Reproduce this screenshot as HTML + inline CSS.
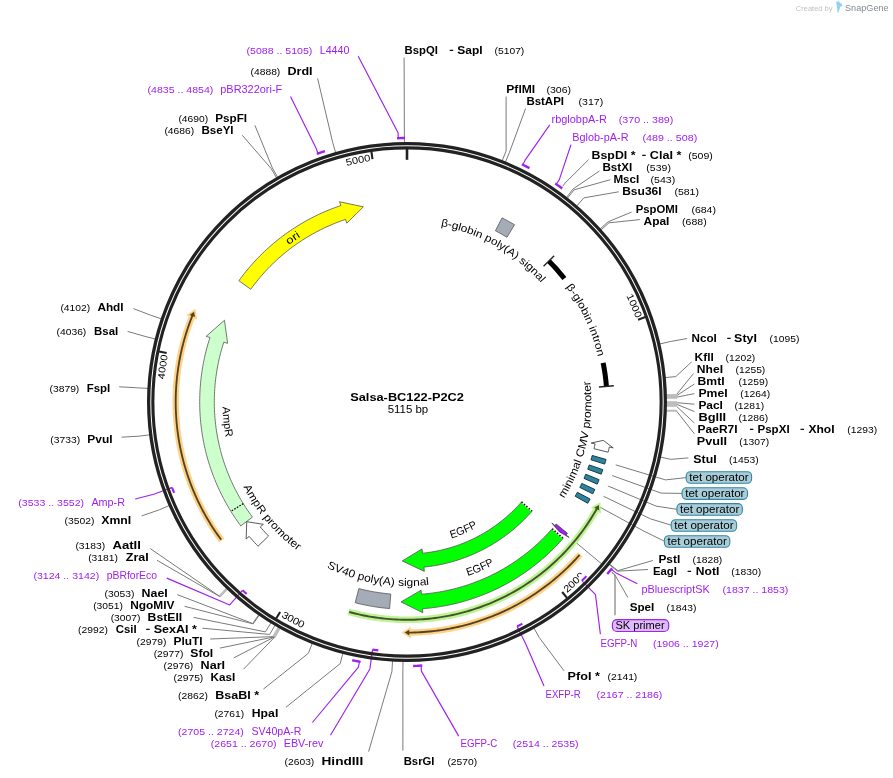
<!DOCTYPE html>
<html><head><meta charset="utf-8"><title>Salsa-BC122-P2C2</title>
<style>html,body{margin:0;padding:0;background:#fff;}svg{display:block;}text{font-family:"Liberation Sans",sans-serif;white-space:pre;}svg{will-change:transform;}</style></head>
<body>
<svg width="893" height="778" viewBox="0 0 893 778" font-family='"Liberation Sans", sans-serif'>
<path d="M404.45,142.81 L404.35,132.01" fill="none" stroke="#7a7a7a" stroke-width="1"/>
<path d="M335.66,152.81 L332.68,142.43" fill="none" stroke="#7a7a7a" stroke-width="1"/>
<path d="M277.74,177.33 L272.36,167.97" fill="none" stroke="#7a7a7a" stroke-width="1"/>
<path d="M276.64,177.97 L271.21,168.63" fill="none" stroke="#7a7a7a" stroke-width="1"/>
<path d="M502.15,160.9 L506.12,150.85" fill="none" stroke="#7a7a7a" stroke-width="1"/>
<path d="M505.4,162.2 L509.5,152.21" fill="none" stroke="#7a7a7a" stroke-width="1"/>
<path d="M562.69,186.32 L565.03,183.08" fill="none" stroke="#7a7a7a" stroke-width="1"/>
<path d="M566.35,197.57 L572.99,189.05" fill="none" stroke="#7a7a7a" stroke-width="1"/>
<path d="M567.35,198.35 L574.03,189.87" fill="none" stroke="#7a7a7a" stroke-width="1"/>
<path d="M576.68,206.06 L583.75,197.89" fill="none" stroke="#7a7a7a" stroke-width="1"/>
<path d="M600.05,229.04 L608.09,221.83" fill="none" stroke="#7a7a7a" stroke-width="1"/>
<path d="M600.9,229.99 L608.98,222.82" fill="none" stroke="#7a7a7a" stroke-width="1"/>
<path d="M659.63,343.99 L670.15,341.57" fill="none" stroke="#7a7a7a" stroke-width="1"/>
<path d="M665.05,377.6 L675.8,376.58" fill="none" stroke="#7a7a7a" stroke-width="1"/>
<path d="M660.28,457.06 L670.84,459.35" fill="none" stroke="#7a7a7a" stroke-width="1"/>
<path d="M609.41,563.91 L617.84,570.66" fill="none" stroke="#7a7a7a" stroke-width="1"/>
<path d="M609.01,564.41 L617.43,571.17" fill="none" stroke="#7a7a7a" stroke-width="1"/>
<path d="M611.62,571.96 L614.7,574.51" fill="none" stroke="#7a7a7a" stroke-width="1"/>
<path d="M533.9,628.01 L539.19,637.43" fill="none" stroke="#7a7a7a" stroke-width="1"/>
<path d="M403.02,661.17 L402.85,671.97" fill="none" stroke="#7a7a7a" stroke-width="1"/>
<path d="M392.52,660.8 L391.92,671.58" fill="none" stroke="#7a7a7a" stroke-width="1"/>
<path d="M342.88,653.14 L340.21,663.61" fill="none" stroke="#7a7a7a" stroke-width="1"/>
<path d="M312.29,643.28 L308.35,653.33" fill="none" stroke="#7a7a7a" stroke-width="1"/>
<path d="M279.82,627.85 L274.52,637.26" fill="none" stroke="#bdbdbd" stroke-width="2"/>
<path d="M279.54,627.7 L274.23,637.1" fill="none" stroke="#bdbdbd" stroke-width="2"/>
<path d="M279.27,627.54 L273.94,636.94" fill="none" stroke="#bdbdbd" stroke-width="2"/>
<path d="M278.71,627.23 L273.37,636.61" fill="none" stroke="#bdbdbd" stroke-width="2"/>
<path d="M275.13,625.15 L269.64,634.45" fill="none" stroke="#7a7a7a" stroke-width="1"/>
<path d="M271.04,622.68 L265.38,631.88" fill="none" stroke="#7a7a7a" stroke-width="1"/>
<path d="M259.32,615.01 L253.17,623.89" fill="none" stroke="#7a7a7a" stroke-width="1"/>
<path d="M258.8,614.65 L252.62,623.51" fill="none" stroke="#7a7a7a" stroke-width="1"/>
<path d="M227.33,588.82 L219.84,596.61" fill="none" stroke="#bdbdbd" stroke-width="2"/>
<path d="M226.87,588.38 L219.36,596.14" fill="none" stroke="#bdbdbd" stroke-width="2"/>
<path d="M169.34,505.46 L159.44,509.77" fill="none" stroke="#7a7a7a" stroke-width="1"/>
<path d="M149.88,434.79 L139.17,436.15" fill="none" stroke="#7a7a7a" stroke-width="1"/>
<path d="M148.16,388.39 L137.37,387.83" fill="none" stroke="#7a7a7a" stroke-width="1"/>
<path d="M155.56,339.04 L145.09,336.41" fill="none" stroke="#7a7a7a" stroke-width="1"/>
<path d="M161.49,318.88 L151.26,315.42" fill="none" stroke="#7a7a7a" stroke-width="1"/>
<path d="M404.35,132.01 L404.1,57.6" fill="none" stroke="#7a7a7a" stroke-width="1"/>
<path d="M332.68,142.43 L317.6,78.4" fill="none" stroke="#7a7a7a" stroke-width="1"/>
<path d="M272.36,167.97 L254.9,125.3" fill="none" stroke="#7a7a7a" stroke-width="1"/>
<path d="M271.21,168.63 L242.3,135.3" fill="none" stroke="#7a7a7a" stroke-width="1"/>
<path d="M506.12,150.85 L506.1,96.5" fill="none" stroke="#7a7a7a" stroke-width="1"/>
<path d="M509.5,152.21 L525.6,108.5" fill="none" stroke="#7a7a7a" stroke-width="1"/>
<path d="M565.03,183.08 L588.6,159.7" fill="none" stroke="#7a7a7a" stroke-width="1"/>
<path d="M572.99,189.05 L599.4,171" fill="none" stroke="#7a7a7a" stroke-width="1"/>
<path d="M574.03,189.87 L610.4,179.7" fill="none" stroke="#7a7a7a" stroke-width="1"/>
<path d="M583.75,197.89 L618.7,191.8" fill="none" stroke="#7a7a7a" stroke-width="1"/>
<path d="M608.09,221.83 L631.5,212.1" fill="none" stroke="#7a7a7a" stroke-width="1"/>
<path d="M608.98,222.82 L639.8,219.6" fill="none" stroke="#7a7a7a" stroke-width="1"/>
<path d="M670.15,341.57 L687.2,338.5" fill="none" stroke="#7a7a7a" stroke-width="1"/>
<path d="M675.8,376.58 L691.7,361.8" fill="none" stroke="#7a7a7a" stroke-width="1"/>
<path d="M676.89,394.12 L693.5,373.5" fill="none" stroke="#7a7a7a" stroke-width="1"/>
<path d="M676.92,395.45 L694.4,384" fill="none" stroke="#7a7a7a" stroke-width="1"/>
<path d="M676.96,397.11 L694.4,393.6" fill="none" stroke="#7a7a7a" stroke-width="1"/>
<path d="M677,402.75 L694.4,404.2" fill="none" stroke="#7a7a7a" stroke-width="1"/>
<path d="M676.99,404.4 L694.4,411.6" fill="none" stroke="#7a7a7a" stroke-width="1"/>
<path d="M676.96,406.73 L694.4,423" fill="none" stroke="#7a7a7a" stroke-width="1"/>
<path d="M676.84,411.37 L694.4,433.8" fill="none" stroke="#7a7a7a" stroke-width="1"/>
<path d="M670.84,459.35 L688.4,457.9" fill="none" stroke="#7a7a7a" stroke-width="1"/>
<path d="M617.84,570.66 L652.9,560.5" fill="none" stroke="#7a7a7a" stroke-width="1"/>
<path d="M617.43,571.17 L648,569.5" fill="none" stroke="#7a7a7a" stroke-width="1"/>
<path d="M614.7,574.51 L627.8,597.4" fill="none" stroke="#7a7a7a" stroke-width="1"/>
<path d="M539.19,637.43 L564,670.8" fill="none" stroke="#7a7a7a" stroke-width="1"/>
<path d="M402.85,671.97 L402.9,750.6" fill="none" stroke="#7a7a7a" stroke-width="1"/>
<path d="M391.92,671.58 L368.6,751.6" fill="none" stroke="#7a7a7a" stroke-width="1"/>
<path d="M340.21,663.61 L285.9,707.3" fill="none" stroke="#7a7a7a" stroke-width="1"/>
<path d="M308.35,653.33 L263.4,689.1" fill="none" stroke="#7a7a7a" stroke-width="1"/>
<path d="M274.52,637.26 L243.5,669.2" fill="none" stroke="#7a7a7a" stroke-width="1"/>
<path d="M274.23,637.1 L233.7,657.9" fill="none" stroke="#7a7a7a" stroke-width="1"/>
<path d="M273.94,636.94 L219.9,648.1" fill="none" stroke="#7a7a7a" stroke-width="1"/>
<path d="M273.37,636.61 L210.2,639" fill="none" stroke="#7a7a7a" stroke-width="1"/>
<path d="M269.64,634.45 L202.4,628.2" fill="none" stroke="#7a7a7a" stroke-width="1"/>
<path d="M265.38,631.88 L193.7,617.4" fill="none" stroke="#7a7a7a" stroke-width="1"/>
<path d="M253.17,623.89 L184.6,606.3" fill="none" stroke="#7a7a7a" stroke-width="1"/>
<path d="M252.62,623.51 L177.2,594.6" fill="none" stroke="#7a7a7a" stroke-width="1"/>
<path d="M219.84,596.61 L157,560.3" fill="none" stroke="#7a7a7a" stroke-width="1"/>
<path d="M219.36,596.14 L150.3,548.6" fill="none" stroke="#7a7a7a" stroke-width="1"/>
<path d="M159.44,509.77 L141.7,515.9" fill="none" stroke="#7a7a7a" stroke-width="1"/>
<path d="M139.17,436.15 L121.6,437.2" fill="none" stroke="#7a7a7a" stroke-width="1"/>
<path d="M137.37,387.83 L119.2,386.8" fill="none" stroke="#7a7a7a" stroke-width="1"/>
<path d="M145.09,336.41 L127.6,331.4" fill="none" stroke="#7a7a7a" stroke-width="1"/>
<path d="M151.26,315.42 L133.4,308.6" fill="none" stroke="#7a7a7a" stroke-width="1"/>
<rect x="664" y="394.1" width="13.2" height="4.7" fill="#bcbcbc"/>
<rect x="664" y="401.2" width="13.2" height="5.6" fill="#bcbcbc"/>
<rect x="664" y="409.7" width="13.2" height="2.1" fill="#bcbcbc"/>
<path d="M615.73,464.89 L665.52,479.9 L686.2,477.6" fill="none" stroke="#7a7a7a" stroke-width="1"/>
<path d="M612.21,475.57 L661.16,493.12 L682.1,493.4" fill="none" stroke="#7a7a7a" stroke-width="1"/>
<path d="M608.14,486.06 L656.12,506.11 L676.9,509.3" fill="none" stroke="#7a7a7a" stroke-width="1"/>
<path d="M603.54,496.32 L650.42,518.82 L671.2,525.2" fill="none" stroke="#7a7a7a" stroke-width="1"/>
<path d="M598.41,506.33 L644.07,531.22 L664.4,541.2" fill="none" stroke="#7a7a7a" stroke-width="1"/>
<path d="M575.38,542.03 L602.29,564.41" fill="none" stroke="#7a7a7a" stroke-width="1"/>
<path d="M611.9,572.4 L614.59,574.64" fill="none" stroke="#7a7a7a" stroke-width="1"/>
<path d="M614.59,574.64 L615,576 L615,615.2" fill="none" stroke="#858585" stroke-width="1.25"/>
<path d="M238.88,280.72 L240.65,278.3 L242.45,275.91 L244.29,273.55 L246.16,271.22 L248.07,268.91 L250.01,266.63 L251.98,264.37 L253.98,262.15 L256.02,259.95 L258.08,257.79 L260.18,255.65 L262.31,253.55 L264.47,251.47 L266.66,249.43 L268.88,247.42 L271.12,245.44 L273.4,243.5 L275.7,241.58 L278.03,239.7 L280.39,237.86 L282.77,236.05 L285.18,234.27 L287.62,232.53 L290.08,230.82 L292.56,229.15 L295.07,227.52 L297.6,225.92 L300.15,224.36 L302.73,222.83 L305.33,221.35 L307.95,219.9 L310.59,218.48 L313.25,217.11 L315.93,215.78 L318.63,214.48 L321.34,213.22 L324.08,212.01 L326.83,210.83 L329.6,209.69 L332.38,208.59 L335.18,207.54 L338,206.52 L340.83,205.54 L339.55,201.75 L363.38,206.82 L346.77,223.17 L345.49,219.38 L342.66,220.36 L339.85,221.38 L337.06,222.44 L334.28,223.55 L331.52,224.7 L328.77,225.89 L326.05,227.13 L323.34,228.41 L320.66,229.73 L317.99,231.09 L315.35,232.49 L312.73,233.93 L310.13,235.42 L307.56,236.94 L305.01,238.5 L302.48,240.11 L299.98,241.75 L297.51,243.43 L295.06,245.15 L292.64,246.9 L290.24,248.7 L287.88,250.53 L285.54,252.4 L283.23,254.3 L280.96,256.24 L278.71,258.21 L276.49,260.22 L274.31,262.27 L272.15,264.34 L270.03,266.45 L267.94,268.6 L265.89,270.77 L263.87,272.98 L261.88,275.21 L259.93,277.48 L258.02,279.78 L256.14,282.11 L254.3,284.46 L252.49,286.85 L250.72,289.26 Z" fill="#ffff00" stroke="#555" stroke-width="0.8" stroke-linejoin="miter"/>
<path d="M240.76,525.85 L239.01,523.46 L237.29,521.05 L235.61,518.62 L233.97,516.16 L232.35,513.68 L230.78,511.17 L229.24,508.65 L227.73,506.1 L226.27,503.53 L224.84,500.94 L223.44,498.33 L222.09,495.7 L220.77,493.05 L219.49,490.38 L218.24,487.7 L217.04,485 L215.87,482.28 L214.75,479.54 L213.66,476.79 L212.61,474.02 L211.61,471.24 L210.64,468.44 L209.71,465.63 L208.82,462.81 L207.97,459.98 L207.17,457.13 L206.4,454.27 L205.67,451.4 L204.99,448.53 L204.34,445.64 L203.74,442.74 L203.18,439.84 L202.66,436.92 L202.19,434 L201.75,431.08 L201.36,428.14 L201,425.21 L200.69,422.26 L200.42,419.32 L200.2,416.37 L200.01,413.41 L199.87,410.46 L199.77,407.5 L199.72,404.54 L199.7,401.58 L199.73,398.62 L199.8,395.67 L199.91,392.71 L200.06,389.75 L200.26,386.8 L200.5,383.85 L200.78,380.91 L201.1,377.97 L201.46,375.03 L201.87,372.1 L202.32,369.17 L202.8,366.26 L203.34,363.34 L203.91,360.44 L204.52,357.55 L205.18,354.66 L205.87,351.79 L206.61,348.92 L207.39,346.07 L208.21,343.22 L209.07,340.39 L209.97,337.57 L206.16,336.33 L224.47,320.26 L227.64,343.35 L223.84,342.11 L222.94,344.94 L222.08,347.79 L221.27,350.65 L220.5,353.52 L219.77,356.4 L219.09,359.29 L218.46,362.2 L217.86,365.11 L217.32,368.03 L216.82,370.96 L216.36,373.9 L215.95,376.84 L215.58,379.79 L215.26,382.75 L214.99,385.71 L214.76,388.67 L214.58,391.64 L214.44,394.6 L214.35,397.58 L214.31,400.55 L214.31,403.52 L214.35,406.49 L214.44,409.46 L214.58,412.43 L214.77,415.4 L215,418.36 L215.27,421.32 L215.59,424.28 L215.96,427.23 L216.37,430.17 L216.83,433.11 L217.33,436.04 L217.88,438.96 L218.47,441.87 L219.11,444.77 L219.79,447.67 L220.52,450.55 L221.29,453.42 L222.1,456.28 L222.96,459.12 L223.86,461.95 L224.81,464.77 L225.8,467.57 L226.83,470.36 L227.91,473.13 L229.03,475.89 L230.19,478.62 L231.39,481.34 L232.64,484.04 L233.92,486.72 L235.25,489.38 L236.62,492.02 L238.03,494.63 L239.48,497.23 L240.96,499.8 L242.49,502.35 L244.06,504.88 L245.67,507.38 L247.31,509.85 L248.99,512.3 L250.71,514.73 L252.47,517.13 Z" fill="#ccffcc" stroke="#555" stroke-width="0.8" stroke-linejoin="miter"/>
<path d="M243.28,503.63 L230.87,511.33" stroke="#000" stroke-width="1.2" stroke-dasharray="1.6,1.4" fill="none"/>
<path d="M258.07,546.2 L256.24,544.29 L254.44,542.35 L252.66,540.39 L250.9,538.41 L249.17,536.4 L246.13,538.99 L246.76,521.68 L263.33,524.34 L260.29,526.93 L261.9,528.8 L263.53,530.64 L265.18,532.46 L266.86,534.27 L268.56,536.05 Z" fill="#ffffff" stroke="#484848" stroke-width="0.9" stroke-linejoin="miter"/>
<path d="M608.12,452.23 L608.75,449.63 L609.35,447.03 L613.25,447.9 L603.28,440.39 L591.19,442.99 L595.1,443.86 L594.54,446.28 L593.96,448.69 Z" fill="#ffffff" stroke="#484848" stroke-width="0.9" stroke-linejoin="miter"/>
<path d="M563.17,538.33 L561.18,540.57 L559.17,542.77 L557.13,544.95 L555.05,547.1 L552.95,549.22 L550.81,551.31 L548.64,553.36 L546.45,555.39 L544.22,557.38 L541.97,559.34 L539.69,561.27 L537.38,563.17 L535.04,565.03 L532.68,566.86 L530.29,568.65 L527.88,570.41 L525.44,572.14 L522.97,573.82 L520.48,575.48 L517.97,577.1 L515.44,578.68 L512.88,580.22 L510.3,581.73 L507.7,583.2 L505.08,584.63 L502.44,586.03 L499.77,587.38 L497.09,588.7 L494.39,589.98 L491.68,591.22 L488.94,592.42 L486.19,593.58 L483.42,594.7 L480.63,595.78 L477.83,596.82 L475.02,597.82 L472.19,598.78 L469.35,599.7 L466.49,600.58 L463.62,601.42 L460.74,602.21 L457.85,602.97 L454.95,603.68 L452.04,604.35 L449.12,604.98 L446.19,605.56 L443.25,606.11 L440.31,606.61 L437.36,607.07 L434.4,607.48 L431.43,607.86 L428.46,608.19 L425.49,608.47 L422.51,608.72 L422.81,612.71 L400.98,601.91 L421.12,590.17 L421.42,594.16 L424.41,593.91 L427.39,593.62 L430.37,593.28 L433.35,592.89 L436.32,592.46 L439.28,591.98 L442.23,591.45 L445.17,590.88 L448.11,590.26 L451.03,589.6 L453.95,588.89 L456.85,588.14 L459.74,587.34 L462.62,586.5 L465.49,585.61 L468.34,584.68 L471.17,583.7 L473.99,582.68 L476.8,581.62 L479.58,580.51 L482.35,579.36 L485.1,578.16 L487.84,576.93 L490.55,575.65 L493.24,574.32 L495.91,572.96 L498.56,571.56 L501.19,570.11 L503.79,568.63 L506.38,567.1 L508.93,565.53 L511.47,563.93 L513.97,562.28 L516.46,560.6 L518.91,558.87 L521.34,557.11 L523.74,555.31 L526.11,553.48 L528.45,551.61 L530.77,549.7 L533.05,547.75 L535.3,545.77 L537.53,543.76 L539.72,541.71 L541.88,539.63 L544,537.51 L546.09,535.37 L548.15,533.18 L550.18,530.97 L552.17,528.73 Z" fill="#00ff00" stroke="#555" stroke-width="0.8" stroke-linejoin="miter"/>
<path d="M532.05,511.17 L530.08,513.39 L528.07,515.57 L526.02,517.72 L523.93,519.83 L521.8,521.9 L519.64,523.93 L517.44,525.93 L515.21,527.88 L512.94,529.8 L510.64,531.67 L508.3,533.51 L505.94,535.3 L503.54,537.04 L501.11,538.75 L498.64,540.41 L496.15,542.03 L493.64,543.6 L491.09,545.13 L488.52,546.61 L485.92,548.04 L483.29,549.43 L480.65,550.77 L477.97,552.06 L475.28,553.31 L472.56,554.5 L469.82,555.65 L467.07,556.75 L464.29,557.8 L461.49,558.8 L458.68,559.75 L455.85,560.65 L453.01,561.5 L450.15,562.29 L447.27,563.04 L444.39,563.74 L441.49,564.38 L438.58,564.97 L435.66,565.51 L432.73,565.99 L429.79,566.43 L426.85,566.81 L423.9,567.14 L424.34,571.42 L402.22,560.93 L422.04,548.93 L422.47,553.21 L425.38,552.88 L428.29,552.5 L431.18,552.06 L434.07,551.57 L436.94,551.02 L439.81,550.42 L442.66,549.76 L445.5,549.04 L448.32,548.28 L451.13,547.45 L453.92,546.58 L456.7,545.65 L459.46,544.66 L462.19,543.62 L464.91,542.54 L467.61,541.39 L470.28,540.2 L472.93,538.96 L475.56,537.66 L478.16,536.32 L480.73,534.92 L483.28,533.48 L485.79,531.98 L488.28,530.44 L490.74,528.85 L493.17,527.22 L495.56,525.53 L497.93,523.8 L500.26,522.03 L502.55,520.21 L504.81,518.35 L507.03,516.45 L509.22,514.5 L511.36,512.51 L513.47,510.48 L515.54,508.41 L517.57,506.3 L519.56,504.15 L521.51,501.96 Z" fill="#00ff00" stroke="#555" stroke-width="0.8" stroke-linejoin="miter"/>
<path d="M552.17,528.73 L563.17,538.33" stroke="#fff" stroke-width="1.6" fill="none"/>
<path d="M552.17,528.73 L563.17,538.33" stroke="#111" stroke-width="1.6" stroke-dasharray="1.5,1.7" fill="none"/>
<path d="M521.51,501.96 L532.05,511.17" stroke="#fff" stroke-width="1.6" fill="none"/>
<path d="M521.51,501.96 L532.05,511.17" stroke="#111" stroke-width="1.6" stroke-dasharray="1.5,1.7" fill="none"/>
<path d="M502.1,217.8 L504.63,219.13 L507.14,220.49 L509.62,221.88 L512.09,223.31 L514.54,224.78 L506.97,237.26 L504.69,235.9 L502.4,234.57 L500.08,233.27 L497.75,232.01 L495.41,230.78 Z" fill="#a5acb8" stroke="#555" stroke-width="0.8"/>
<path d="M389.58,608.57 L386.68,608.3 L383.79,608 L380.9,607.65 L378.02,607.26 L375.15,606.84 L372.28,606.37 L369.42,605.86 L366.56,605.32 L363.71,604.73 L360.87,604.1 L358.04,603.44 L355.22,602.73 L358.87,588.59 L361.73,589.31 L364.6,589.98 L367.48,590.6 L370.37,591.19 L373.27,591.73 L376.18,592.22 L379.09,592.67 L382.01,593.07 L384.94,593.43 L387.87,593.75 L390.8,594.02 Z" fill="#a5acb8" stroke="#555" stroke-width="0.8"/>
<path d="M606.07,459.46 L605.39,461.78 L604.68,464.09 L590.94,459.77 L591.6,457.62 L592.24,455.47 Z" fill="#2c84a0" stroke="#1b3a44" stroke-width="1"/>
<path d="M602.85,469.65 L602.04,471.93 L601.21,474.2 L587.72,469.18 L588.49,467.07 L589.23,464.95 Z" fill="#2c84a0" stroke="#1b3a44" stroke-width="1"/>
<path d="M599.1,479.66 L598.18,481.89 L597.23,484.12 L584.01,478.41 L584.89,476.34 L585.75,474.26 Z" fill="#2c84a0" stroke="#1b3a44" stroke-width="1"/>
<path d="M594.84,489.46 L593.8,491.65 L592.74,493.82 L579.84,487.44 L580.82,485.42 L581.78,483.38 Z" fill="#2c84a0" stroke="#1b3a44" stroke-width="1"/>
<path d="M590.08,499.03 L588.93,501.16 L587.76,503.28 L575.2,496.24 L576.29,494.27 L577.35,492.29 Z" fill="#2c84a0" stroke="#1b3a44" stroke-width="1"/>
<path d="M548.88,261.04 L550.97,263.18 L553.03,265.35 L555.06,267.55 L557.06,269.78 L559.02,272.04 L560.95,274.34 L562.85,276.66 L564.71,279 L566.53,281.38 L568.32,283.78 L570.07,286.21 L571.79,288.67 L573.47,291.15 L575.11,293.65 L576.71,296.18 L578.28,298.73 L579.81,301.31 L581.29,303.91 L582.74,306.53 L584.15,309.17 L585.52,311.84 L586.85,314.52 L588.14,317.22 L589.39,319.95 L590.6,322.69 L591.77,325.44 L592.89,328.22 L593.98,331.01 L595.02,333.82 L596.02,336.64 L596.98,339.48 L597.89,342.33 L598.76,345.2 L599.59,348.08 L600.38,350.97 L601.12,353.87 L601.82,356.78 L602.48,359.7 L603.09,362.64 L603.66,365.58 L604.18,368.53 L604.66,371.48 L605.09,374.45 L605.48,377.41 L605.83,380.39 L606.13,383.37 L606.39,386.35" fill="none" stroke="#000" stroke-width="5"/>
<path d="M543.56,266.32 L554.2,255.75" stroke="#222" stroke-width="1.4" fill="none"/>
<path d="M598.91,386.94 L613.86,385.77" stroke="#222" stroke-width="1.4" fill="none"/>
<path d="M567.44,533.27 L566.1,534.89 L569.17,537.46 L559.19,531.76 L551.83,522.97 L554.9,525.53 L556.14,524.03 Z" fill="#a020f0" stroke="#333" stroke-width="0.7" stroke-linejoin="miter"/>
<path d="M348.47,611.79 L351.34,612.57 L354.22,613.31 L357.1,614.01 L360,614.67 L362.91,615.29 L365.82,615.87 L368.74,616.41 L371.67,616.92 L374.61,617.38 L377.55,617.8 L380.49,618.18 L383.45,618.52 L386.4,618.82 L389.36,619.08 L392.33,619.31 L395.29,619.49 L398.26,619.62 L401.23,619.72 L404.2,619.78 L407.17,619.8 L410.14,619.78 L413.11,619.71 L416.08,619.61 L419.05,619.47 L422.02,619.28 L424.98,619.06 L427.94,618.79 L430.9,618.49 L433.85,618.14 L436.79,617.75 L439.73,617.33 L442.67,616.86 L445.6,616.35 L448.52,615.81 L451.43,615.22 L454.34,614.59 L457.23,613.93 L460.12,613.22 L463,612.48 L465.86,611.7 L468.72,610.87 L471.56,610.01 L474.39,609.11 L477.21,608.17 L480.02,607.2 L482.81,606.18 L485.59,605.13 L488.35,604.04 L491.1,602.91 L493.84,601.74 L496.55,600.54 L499.25,599.3 L501.94,598.02 L504.6,596.71 L507.25,595.36 L509.88,593.97 L512.49,592.55 L515.08,591.09 L517.65,589.6 L520.2,588.07 L522.72,586.51 L525.23,584.92 L527.71,583.29 L530.18,581.62 L532.62,579.93 L535.03,578.2 L537.42,576.43 L539.79,574.64 L542.13,572.81 L544.45,570.95 L546.74,569.06 L549.01,567.14 L551.25,565.18 L553.46,563.2 L555.65,561.19 L557.81,559.14 L559.94,557.07 L562.04,554.97 L564.11,552.84 L566.15,550.69 L568.17,548.5 L570.15,546.29 L572.1,544.05 L574.03,541.78 L575.92,539.49 L577.78,537.17 L579.61,534.83 L581.4,532.46 L583.17,530.07 L584.9,527.66 L586.59,525.22 L588.26,522.76 L589.89,520.27 L591.49,517.77 L593.05,515.24 L594.58,512.69 L596.07,510.12" fill="none" stroke="#bdf392" stroke-width="6.6"/>
<path d="M600.99,513.41 L600.37,502.22 L590.75,507.53 Z" fill="#bdf392"/>
<path d="M349.24,612 L352.12,612.77 L355.02,613.51 L357.92,614.2 L360.83,614.85 L363.75,615.46 L366.68,616.04 L369.62,616.57 L372.56,617.06 L375.51,617.51 L378.46,617.92 L381.42,618.29 L384.39,618.62 L387.36,618.91 L390.33,619.16 L393.31,619.37 L396.29,619.54 L399.27,619.66 L402.25,619.75 L405.24,619.79 L408.22,619.8 L411.2,619.76 L414.19,619.68 L417.17,619.56 L420.15,619.4 L423.12,619.2 L426.1,618.96 L429.07,618.68 L432.04,618.36 L435,617.99 L437.95,617.59 L440.9,617.14 L443.85,616.66 L446.79,616.14 L449.72,615.57 L452.64,614.96 L455.55,614.32 L458.45,613.63 L461.35,612.91 L464.23,612.15 L467.11,611.34 L469.97,610.5 L472.82,609.62 L475.66,608.7 L478.48,607.74 L481.29,606.74 L484.09,605.7 L486.88,604.62 L489.64,603.51 L492.4,602.36 L495.13,601.17 L497.85,599.95 L500.56,598.68 L503.24,597.38 L505.91,596.04 L508.56,594.67 L511.19,593.26 L513.8,591.82 L516.39,590.34 L518.96,588.82 L521.51,587.27 L524.04,585.68 L526.54,584.06 L529.03,582.41 L531.49,580.72 L533.92,579 L536.34,577.24 L538.72,575.45 L541.09,573.63 L543.43,571.78 L545.74,569.89 L548.03,567.98 L550.29,566.03 L552.52,564.05 L554.73,562.04 L556.91,560 L559.06,557.93 L561.18,555.84 L563.27,553.71 L565.34,551.56 L567.37,549.37 L569.37,547.16 L571.35,544.92 L573.29,542.66 L575.2,540.37 L577.08,538.05 L578.93,535.71 L580.74,533.34 L582.53,530.95 L584.28,528.53 L585.99,526.09 L587.68,523.63 L589.33,521.14 L590.94,518.63 L592.52,516.1 L594.07,513.55 L595.58,510.97 L597.05,508.38" fill="none" stroke="#43532c" stroke-width="1.9"/>
<path d="M599.19,510.5 L598.88,505.05 L594.14,507.65 Z" fill="#43532c"/>
<path d="M580.13,554.33 L578.16,556.54 L576.16,558.72 L574.13,560.88 L572.08,563.01 L570,565.12 L567.9,567.19 L565.76,569.25 L563.6,571.27 L561.42,573.26 L559.21,575.23 L556.97,577.17 L554.71,579.08 L552.43,580.96 L550.12,582.81 L547.79,584.64 L545.43,586.43 L543.05,588.19 L540.65,589.92 L538.23,591.62 L535.79,593.29 L533.32,594.92 L530.83,596.53 L528.33,598.1 L525.8,599.64 L523.26,601.15 L520.69,602.63 L518.11,604.07 L515.5,605.48 L512.88,606.85 L510.25,608.2 L507.59,609.5 L504.92,610.78 L502.23,612.02 L499.53,613.22 L496.81,614.39 L494.08,615.53 L491.33,616.63 L488.57,617.69 L485.8,618.72 L483.01,619.71 L480.21,620.67 L477.4,621.59 L474.57,622.48 L471.74,623.33 L468.89,624.14 L466.04,624.91 L463.17,625.65 L460.3,626.36 L457.41,627.02 L454.52,627.65 L451.62,628.24 L448.72,628.8 L445.8,629.31 L442.88,629.79 L439.96,630.23 L437.02,630.64 L434.09,631 L431.15,631.33 L428.2,631.62 L425.25,631.88 L422.3,632.09 L419.35,632.27 L416.39,632.41 L413.43,632.51 L410.48,632.57" fill="none" stroke="#fdd288" stroke-width="6.4"/>
<path d="M410.98,638.47 L401.48,632.53 L410.78,626.67 Z" fill="#fdd288"/>
<path d="M579.6,554.93 L577.61,557.14 L575.59,559.33 L573.54,561.5 L571.47,563.64 L569.37,565.75 L567.24,567.83 L565.09,569.88 L562.91,571.91 L560.7,573.91 L558.47,575.88 L556.21,577.82 L553.93,579.73 L551.62,581.62 L549.29,583.47 L546.93,585.29 L544.55,587.08 L542.15,588.84 L539.73,590.57 L537.28,592.27 L534.81,593.94 L532.33,595.57 L529.82,597.17 L527.28,598.74 L524.73,600.28 L522.16,601.78 L519.57,603.25 L516.97,604.69 L514.34,606.09 L511.7,607.46 L509.03,608.8 L506.36,610.1 L503.66,611.36 L500.95,612.59 L498.22,613.79 L495.48,614.95 L492.72,616.07 L489.95,617.16 L487.17,618.22 L484.37,619.23 L481.56,620.22 L478.73,621.16 L475.9,622.07 L473.05,622.94 L470.19,623.77 L467.32,624.57 L464.44,625.33 L461.55,626.05 L458.66,626.74 L455.75,627.39 L452.83,628 L449.91,628.57 L446.98,629.11 L444.05,629.6 L441.11,630.06 L438.16,630.49 L435.21,630.87 L432.25,631.21 L429.29,631.52 L426.32,631.79 L423.35,632.02 L420.38,632.21 L417.41,632.37 L414.43,632.48 L411.45,632.56 L408.48,632.6" fill="none" stroke="#564220" stroke-width="1.85"/>
<path d="M409.3,635.49 L404.68,632.59 L409.25,629.69 Z" fill="#564220"/>
<path d="M221.65,540.37 L219.89,537.97 L218.15,535.55 L216.45,533.11 L214.78,530.65 L213.14,528.16 L211.53,525.65 L209.95,523.13 L208.41,520.58 L206.9,518.01 L205.42,515.43 L203.98,512.82 L202.57,510.2 L201.19,507.56 L199.85,504.9 L198.54,502.22 L197.27,499.53 L196.03,496.82 L194.83,494.1 L193.66,491.36 L192.52,488.6 L191.43,485.83 L190.37,483.05 L189.34,480.25 L188.35,477.44 L187.4,474.62 L186.48,471.79 L185.6,468.94 L184.76,466.09 L183.95,463.22 L183.18,460.34 L182.45,457.46 L181.75,454.56 L181.09,451.65 L180.47,448.74 L179.89,445.82 L179.34,442.89 L178.84,439.96 L178.37,437.02 L177.93,434.07 L177.54,431.12 L177.18,428.16 L176.87,425.2 L176.59,422.23 L176.35,419.27 L176.14,416.29 L175.98,413.32 L175.85,410.34 L175.76,407.37 L175.71,404.39 L175.7,401.41 L175.73,398.43 L175.79,395.45 L175.9,392.48 L176.04,389.5 L176.22,386.53 L176.44,383.56 L176.69,380.59 L176.99,377.63 L177.32,374.67 L177.69,371.71 L178.1,368.76 L178.55,365.82 L179.03,362.88 L179.55,359.95 L180.12,357.02 L180.71,354.11 L181.35,351.2 L182.02,348.29 L182.73,345.4 L183.48,342.52 L184.26,339.65 L185.08,336.78 L185.94,333.93 L186.84,331.09 L187.77,328.26 L188.74,325.44 L189.74,322.64 L190.78,319.85 L191.86,317.07" fill="none" stroke="#fdd288" stroke-width="6.4"/>
<path d="M186.22,315.29 L195.32,308.77 L197.2,319.6 Z" fill="#fdd288"/>
<path d="M221.18,539.73 L219.41,537.31 L217.67,534.87 L215.97,532.41 L214.3,529.93 L212.66,527.42 L211.05,524.9 L209.48,522.35 L207.94,519.79 L206.43,517.2 L204.96,514.59 L203.51,511.97 L202.11,509.33 L200.74,506.67 L199.4,503.99 L198.1,501.29 L196.83,498.58 L195.6,495.85 L194.4,493.11 L193.24,490.35 L192.11,487.58 L191.02,484.79 L189.97,481.99 L188.95,479.17 L187.97,476.34 L187.03,473.5 L186.12,470.65 L185.25,467.78 L184.42,464.91 L183.62,462.02 L182.87,459.13 L182.14,456.22 L181.46,453.31 L180.82,450.38 L180.21,447.45 L179.64,444.51 L179.11,441.57 L178.62,438.61 L178.16,435.65 L177.75,432.69 L177.37,429.72 L177.03,426.75 L176.73,423.77 L176.46,420.79 L176.24,417.8 L176.06,414.81 L175.91,411.82 L175.8,408.83 L175.73,405.84 L175.7,402.85 L175.71,399.85 L175.76,396.86 L175.84,393.87 L175.97,390.87 L176.13,387.89 L176.33,384.9 L176.57,381.92 L176.85,378.93 L177.17,375.96 L177.53,372.99 L177.92,370.02 L178.35,367.06 L178.83,364.1 L179.34,361.15 L179.88,358.21 L180.47,355.27 L181.09,352.34 L181.75,349.42 L182.45,346.51 L183.19,343.61 L183.97,340.72 L184.78,337.84 L185.63,334.97 L186.51,332.11 L187.44,329.26 L188.4,326.42 L189.39,323.6 L190.42,320.79 L191.49,318 L192.6,315.21" fill="none" stroke="#564220" stroke-width="1.85"/>
<path d="M189.61,314.88 L194.05,311.7 L194.99,317.03 Z" fill="#564220"/>
<path d="M398.25,138.15 L398.06,132.65 L358.2,56.3" fill="none" stroke="#a020f0" stroke-width="1.15" stroke-linejoin="round"/>
<path d="M317.98,153.46 L316.12,148.28 L290.5,96.5" fill="none" stroke="#a020f0" stroke-width="1.15" stroke-linejoin="round"/>
<path d="M522.9,164.8 L525.31,159.86 L549.7,124.8" fill="none" stroke="#a020f0" stroke-width="1.15" stroke-linejoin="round"/>
<path d="M556.21,184.21 L559.32,179.68 L571,144.6" fill="none" stroke="#a020f0" stroke-width="1.15" stroke-linejoin="round"/>
<path d="M611.32,569.18 L615.58,572.66 L637.3,583.7" fill="none" stroke="#a020f0" stroke-width="1.15" stroke-linejoin="round"/>
<path d="M581.84,580.69 L595.48,594.63 L600.4,634.3" fill="none" stroke="#a020f0" stroke-width="1.15" stroke-linejoin="round"/>
<path d="M517.17,626.42 L525.76,643.92 L544,686" fill="none" stroke="#a020f0" stroke-width="1.15" stroke-linejoin="round"/>
<path d="M421.1,665.62 L421.39,671.12 L458.7,736.1" fill="none" stroke="#a020f0" stroke-width="1.15" stroke-linejoin="round"/>
<path d="M372.56,649.62 L369.88,668.93 L330.5,735.2" fill="none" stroke="#a020f0" stroke-width="1.15" stroke-linejoin="round"/>
<path d="M359.43,661.68 L358.44,667.09 L312.4,722.5" fill="none" stroke="#a020f0" stroke-width="1.15" stroke-linejoin="round"/>
<path d="M242.53,590.28 L229.7,604.97 L166.8,578.1" fill="none" stroke="#a020f0" stroke-width="1.15" stroke-linejoin="round"/>
<path d="M172.09,487.53 L153.76,494.2 L135.2,499" fill="none" stroke="#a020f0" stroke-width="1.15" stroke-linejoin="round"/>
<circle cx="407" cy="402" r="258.35" fill="none" stroke="#222" stroke-width="3.3"/>
<circle cx="407" cy="402" r="254.15" fill="none" stroke="#222" stroke-width="3.1"/>
<path d="M407,149 L407,159.8" stroke="#222" stroke-width="2.6" fill="none"/>
<path d="M645.31,317.05 L638.06,319.64" stroke="#222" stroke-width="2.1" fill="none"/>
<path d="M567.03,597.96 L562.16,591.99" stroke="#222" stroke-width="2.1" fill="none"/>
<path d="M276.15,618.54 L280.13,611.95" stroke="#222" stroke-width="2.1" fill="none"/>
<path d="M159.1,351.45 L166.65,352.99" stroke="#222" stroke-width="2.1" fill="none"/>
<path d="M371.38,151.52 L372.46,159.14" stroke="#222" stroke-width="2.1" fill="none"/>
<text transform="translate(626.27,295.87) rotate(64.17) scale(1.13,1)" font-size="9.8" fill="#000">1</text>
<text transform="translate(628.87,301.44) rotate(65.62) scale(1.13,1)" font-size="9.8" fill="#000">0</text>
<text transform="translate(631.34,307.07) rotate(67.06) scale(1.13,1)" font-size="9.8" fill="#000">0</text>
<text transform="translate(633.67,312.77) rotate(68.51) scale(1.13,1)" font-size="9.8" fill="#000">0</text>
<text transform="translate(566.89,592.88) rotate(320.05) scale(1.13,1)" font-size="9.8" fill="#000">2</text>
<text transform="translate(571.56,588.88) rotate(318.63) scale(1.13,1)" font-size="9.8" fill="#000">0</text>
<text transform="translate(576.12,584.75) rotate(317.22) scale(1.13,1)" font-size="9.8" fill="#000">0</text>
<text transform="translate(580.58,580.52) rotate(315.8) scale(1.13,1)" font-size="9.8" fill="#000">0</text>
<text transform="translate(280.88,616.7) rotate(390.43) scale(1.13,1)" font-size="9.8" fill="#000">3</text>
<text transform="translate(286.22,619.75) rotate(389.02) scale(1.13,1)" font-size="9.8" fill="#000">0</text>
<text transform="translate(291.64,622.66) rotate(387.6) scale(1.13,1)" font-size="9.8" fill="#000">0</text>
<text transform="translate(297.12,625.45) rotate(386.18) scale(1.13,1)" font-size="9.8" fill="#000">0</text>
<text transform="translate(164.45,379.43) rotate(275.32) scale(1.13,1)" font-size="9.8" fill="#000">4</text>
<text transform="translate(165.09,373.32) rotate(276.76) scale(1.13,1)" font-size="9.8" fill="#000">0</text>
<text transform="translate(165.9,367.22) rotate(278.21) scale(1.13,1)" font-size="9.8" fill="#000">0</text>
<text transform="translate(166.85,361.14) rotate(279.66) scale(1.13,1)" font-size="9.8" fill="#000">0</text>
<text transform="translate(346.82,165.95) rotate(345.7) scale(1.13,1)" font-size="9.8" fill="#000">5</text>
<text transform="translate(352.8,164.51) rotate(347.14) scale(1.13,1)" font-size="9.8" fill="#000">0</text>
<text transform="translate(358.81,163.21) rotate(348.59) scale(1.13,1)" font-size="9.8" fill="#000">0</text>
<text transform="translate(364.85,162.07) rotate(350.04) scale(1.13,1)" font-size="9.8" fill="#000">0</text>
<path d="M590.03,574.92 L588.2,576.84 L586.35,578.74 L584.48,580.62 L582.59,582.48 L577.99,577.75 L579.83,575.94 L581.65,574.11 L583.45,572.26 L585.24,570.39 Z" fill="#fff"/>
<path d="M398.25,138.15 L400.08,138.09 L401.92,138.05 L403.76,138.02" fill="none" stroke="#a020f0" stroke-width="2.4" stroke-linecap="square"/>
<path d="M317.98,153.46 L319.91,152.78 L321.86,152.11 L323.8,151.45" fill="none" stroke="#a020f0" stroke-width="2.4" stroke-linecap="square"/>
<path d="M522.9,164.8 L524.74,165.71 L526.58,166.63 L528.4,167.57" fill="none" stroke="#a020f0" stroke-width="2.4" stroke-linecap="square"/>
<path d="M556.21,184.21 L557.9,185.38 L559.58,186.56 L561.26,187.75" fill="none" stroke="#a020f0" stroke-width="2.4" stroke-linecap="square"/>
<path d="M611.32,569.18 L610.22,570.51 L609.11,571.84 L608,573.16" fill="none" stroke="#a020f0" stroke-width="2.4" stroke-linecap="square"/>
<path d="M586.39,576.12 L584.89,577.66 L583.37,579.18 L581.84,580.69" fill="none" stroke="#a020f0" stroke-width="2.1" stroke-linecap="butt"/>
<path d="M581.84,580.69 L583.52,582.41" fill="none" stroke="#a020f0" stroke-width="1"/>
<path d="M522.37,623.79 L520.65,624.68 L518.91,625.55 L517.17,626.42" fill="none" stroke="#a020f0" stroke-width="2.1" stroke-linecap="butt"/>
<path d="M517.17,626.42 L518.23,628.57" fill="none" stroke="#a020f0" stroke-width="1"/>
<path d="M421.1,665.62 L418.83,665.73 L416.56,665.83 L414.3,665.9" fill="none" stroke="#a020f0" stroke-width="2.4" stroke-linecap="square"/>
<path d="M378.35,650.35 L376.42,650.12 L374.49,649.88 L372.56,649.62" fill="none" stroke="#a020f0" stroke-width="2.1" stroke-linecap="butt"/>
<path d="M372.56,649.62 L372.23,651.99" fill="none" stroke="#a020f0" stroke-width="1"/>
<path d="M359.43,661.68 L357.41,661.3 L355.39,660.91 L353.38,660.5" fill="none" stroke="#a020f0" stroke-width="2.4" stroke-linecap="square"/>
<path d="M246.73,593.87 L245.33,592.69 L243.92,591.49 L242.53,590.28" fill="none" stroke="#a020f0" stroke-width="2.1" stroke-linecap="butt"/>
<path d="M242.53,590.28 L240.95,592.09" fill="none" stroke="#a020f0" stroke-width="1"/>
<path d="M174.15,492.99 L173.44,491.17 L172.76,489.35 L172.09,487.53" fill="none" stroke="#a020f0" stroke-width="2.1" stroke-linecap="butt"/>
<path d="M172.09,487.53 L169.83,488.35" fill="none" stroke="#a020f0" stroke-width="1"/>
<text x="246.6" y="54" font-size="9.4" fill="#a020f0" textLength="65.8" lengthAdjust="spacingAndGlyphs">(5088 .. 5105)</text>
<text x="319.7" y="54" font-size="10.6" fill="#a020f0" textLength="29.7" lengthAdjust="spacingAndGlyphs">L4440</text>
<text x="404.6" y="54" font-size="10.6" font-weight="bold" fill="#000" textLength="33.3" lengthAdjust="spacingAndGlyphs">BspQI</text>
<rect x="449.7" y="49.75" width="3.5" height="1.25" fill="#111"/>
<text x="457.3" y="54" font-size="10.6" font-weight="bold" fill="#000" textLength="25.3" lengthAdjust="spacingAndGlyphs">SapI</text>
<text x="494.5" y="54" font-size="9.4" fill="#000" textLength="29.8" lengthAdjust="spacingAndGlyphs">(5107)</text>
<text x="250.5" y="75" font-size="9.4" fill="#000" textLength="29.8" lengthAdjust="spacingAndGlyphs">(4888)</text>
<text x="287.5" y="75" font-size="10.6" font-weight="bold" fill="#000" textLength="25.1" lengthAdjust="spacingAndGlyphs">DrdI</text>
<text x="147.5" y="93" font-size="9.4" fill="#a020f0" textLength="65.8" lengthAdjust="spacingAndGlyphs">(4835 .. 4854)</text>
<text x="220.3" y="93" font-size="10.6" fill="#a020f0" textLength="61.9" lengthAdjust="spacingAndGlyphs">pBR322ori-F</text>
<text x="178.4" y="122" font-size="9.4" fill="#000" textLength="29.8" lengthAdjust="spacingAndGlyphs">(4690)</text>
<text x="215.2" y="122" font-size="10.6" font-weight="bold" fill="#000" textLength="31.9" lengthAdjust="spacingAndGlyphs">PspFI</text>
<text x="164.4" y="134" font-size="9.4" fill="#000" textLength="29.8" lengthAdjust="spacingAndGlyphs">(4686)</text>
<text x="201.4" y="134" font-size="10.6" font-weight="bold" fill="#000" textLength="32.2" lengthAdjust="spacingAndGlyphs">BseYI</text>
<text x="506.3" y="93" font-size="10.6" font-weight="bold" fill="#000" textLength="28.9" lengthAdjust="spacingAndGlyphs">PflMI</text>
<text x="546.5" y="93" font-size="9.4" fill="#000" textLength="24.6" lengthAdjust="spacingAndGlyphs">(306)</text>
<text x="526.4" y="105" font-size="10.6" font-weight="bold" fill="#000" textLength="37.6" lengthAdjust="spacingAndGlyphs">BstAPI</text>
<text x="578.6" y="105" font-size="9.4" fill="#000" textLength="24.6" lengthAdjust="spacingAndGlyphs">(317)</text>
<text x="551.5" y="123" font-size="10.6" fill="#a020f0" textLength="55.4" lengthAdjust="spacingAndGlyphs">rbglobpA-R</text>
<text x="618.7" y="123" font-size="9.4" fill="#a020f0" textLength="54.7" lengthAdjust="spacingAndGlyphs">(370 .. 389)</text>
<text x="572.3" y="141" font-size="10.6" fill="#a020f0" textLength="56.2" lengthAdjust="spacingAndGlyphs">Bglob-pA-R</text>
<text x="642.5" y="141" font-size="9.4" fill="#a020f0" textLength="54.7" lengthAdjust="spacingAndGlyphs">(489 .. 508)</text>
<text x="591.6" y="159" font-size="10.6" font-weight="bold" fill="#000" textLength="43.9" lengthAdjust="spacingAndGlyphs">BspDI *</text>
<rect x="642.2" y="154.75" width="3.5" height="1.25" fill="#111"/>
<text x="649.8" y="159" font-size="10.6" font-weight="bold" fill="#000" textLength="31.6" lengthAdjust="spacingAndGlyphs">ClaI *</text>
<text x="688.2" y="159" font-size="9.4" fill="#000" textLength="24.6" lengthAdjust="spacingAndGlyphs">(509)</text>
<text x="602.4" y="171" font-size="10.6" font-weight="bold" fill="#000" textLength="29.8" lengthAdjust="spacingAndGlyphs">BstXI</text>
<text x="646.3" y="171" font-size="9.4" fill="#000" textLength="24.6" lengthAdjust="spacingAndGlyphs">(539)</text>
<text x="613.4" y="183" font-size="10.6" font-weight="bold" fill="#000" textLength="25.9" lengthAdjust="spacingAndGlyphs">MscI</text>
<text x="650.6" y="183" font-size="9.4" fill="#000" textLength="24.6" lengthAdjust="spacingAndGlyphs">(543)</text>
<text x="622.2" y="195" font-size="10.6" font-weight="bold" fill="#000" textLength="39.4" lengthAdjust="spacingAndGlyphs">Bsu36I</text>
<text x="674.4" y="195" font-size="9.4" fill="#000" textLength="24.6" lengthAdjust="spacingAndGlyphs">(581)</text>
<text x="635.7" y="213" font-size="10.6" font-weight="bold" fill="#000" textLength="42.2" lengthAdjust="spacingAndGlyphs">PspOMI</text>
<text x="691.4" y="213" font-size="9.4" fill="#000" textLength="24.6" lengthAdjust="spacingAndGlyphs">(684)</text>
<text x="643.5" y="225" font-size="10.6" font-weight="bold" fill="#000" textLength="25.9" lengthAdjust="spacingAndGlyphs">ApaI</text>
<text x="682.1" y="225" font-size="9.4" fill="#000" textLength="24.6" lengthAdjust="spacingAndGlyphs">(688)</text>
<text x="691.5" y="342" font-size="10.6" font-weight="bold" fill="#000" textLength="25.3" lengthAdjust="spacingAndGlyphs">NcoI</text>
<rect x="727.2" y="337.75" width="3.5" height="1.25" fill="#111"/>
<text x="734.1" y="342" font-size="10.6" font-weight="bold" fill="#000" textLength="22.8" lengthAdjust="spacingAndGlyphs">StyI</text>
<text x="769.6" y="342" font-size="9.4" fill="#000" textLength="29.8" lengthAdjust="spacingAndGlyphs">(1095)</text>
<text x="694.5" y="361" font-size="10.6" font-weight="bold" fill="#000" textLength="19.3" lengthAdjust="spacingAndGlyphs">KflI</text>
<text x="725.5" y="361" font-size="9.4" fill="#000" textLength="29.8" lengthAdjust="spacingAndGlyphs">(1202)</text>
<text x="696.8" y="373" font-size="10.6" font-weight="bold" fill="#000" textLength="26.2" lengthAdjust="spacingAndGlyphs">NheI</text>
<text x="735.5" y="373" font-size="9.4" fill="#000" textLength="29.8" lengthAdjust="spacingAndGlyphs">(1255)</text>
<text x="697.6" y="385" font-size="10.6" font-weight="bold" fill="#000" textLength="27" lengthAdjust="spacingAndGlyphs">BmtI</text>
<text x="738.4" y="385" font-size="9.4" fill="#000" textLength="29.8" lengthAdjust="spacingAndGlyphs">(1259)</text>
<text x="698.4" y="397" font-size="10.6" font-weight="bold" fill="#000" textLength="29.2" lengthAdjust="spacingAndGlyphs">PmeI</text>
<text x="740.3" y="397" font-size="9.4" fill="#000" textLength="29.8" lengthAdjust="spacingAndGlyphs">(1264)</text>
<text x="698.4" y="409" font-size="10.6" font-weight="bold" fill="#000" textLength="24.5" lengthAdjust="spacingAndGlyphs">PacI</text>
<text x="734.4" y="409" font-size="9.4" fill="#000" textLength="29.8" lengthAdjust="spacingAndGlyphs">(1281)</text>
<text x="698.4" y="421" font-size="10.6" font-weight="bold" fill="#000" textLength="27.8" lengthAdjust="spacingAndGlyphs">BglII</text>
<text x="738.4" y="421" font-size="9.4" fill="#000" textLength="29.8" lengthAdjust="spacingAndGlyphs">(1286)</text>
<text x="697.6" y="433" font-size="10.6" font-weight="bold" fill="#000" textLength="40" lengthAdjust="spacingAndGlyphs">PaeR7I</text>
<rect x="749.9" y="428.75" width="3.5" height="1.25" fill="#111"/>
<text x="757.5" y="433" font-size="10.6" font-weight="bold" fill="#000" textLength="32.1" lengthAdjust="spacingAndGlyphs">PspXI</text>
<rect x="800.5" y="428.75" width="3.5" height="1.25" fill="#111"/>
<text x="808.4" y="433" font-size="10.6" font-weight="bold" fill="#000" textLength="26.1" lengthAdjust="spacingAndGlyphs">XhoI</text>
<text x="847.3" y="433" font-size="9.4" fill="#000" textLength="29.8" lengthAdjust="spacingAndGlyphs">(1293)</text>
<text x="696.8" y="445" font-size="10.6" font-weight="bold" fill="#000" textLength="30.2" lengthAdjust="spacingAndGlyphs">PvuII</text>
<text x="739.3" y="445" font-size="9.4" fill="#000" textLength="29.8" lengthAdjust="spacingAndGlyphs">(1307)</text>
<text x="693.3" y="463" font-size="10.6" font-weight="bold" fill="#000" textLength="23.3" lengthAdjust="spacingAndGlyphs">StuI</text>
<text x="728.9" y="463" font-size="9.4" fill="#000" textLength="29.8" lengthAdjust="spacingAndGlyphs">(1453)</text>
<text x="658.4" y="563" font-size="10.6" font-weight="bold" fill="#000" textLength="21.8" lengthAdjust="spacingAndGlyphs">PstI</text>
<text x="692.5" y="563" font-size="9.4" fill="#000" textLength="29.8" lengthAdjust="spacingAndGlyphs">(1828)</text>
<text x="652.9" y="575" font-size="10.6" font-weight="bold" fill="#000" textLength="24" lengthAdjust="spacingAndGlyphs">EagI</text>
<rect x="687.6" y="570.75" width="3.5" height="1.25" fill="#111"/>
<text x="695.8" y="575" font-size="10.6" font-weight="bold" fill="#000" textLength="23.5" lengthAdjust="spacingAndGlyphs">NotI</text>
<text x="731.3" y="575" font-size="9.4" fill="#000" textLength="29.8" lengthAdjust="spacingAndGlyphs">(1830)</text>
<text x="641.4" y="593" font-size="10.6" fill="#a020f0" textLength="68.3" lengthAdjust="spacingAndGlyphs">pBluescriptSK</text>
<text x="722.6" y="593" font-size="9.4" fill="#a020f0" textLength="65.8" lengthAdjust="spacingAndGlyphs">(1837 .. 1853)</text>
<text x="629.7" y="611" font-size="10.6" font-weight="bold" fill="#000" textLength="24.6" lengthAdjust="spacingAndGlyphs">SpeI</text>
<text x="666.6" y="611" font-size="9.4" fill="#000" textLength="29.8" lengthAdjust="spacingAndGlyphs">(1843)</text>
<text x="600.4" y="647" font-size="10.6" fill="#a020f0" textLength="36.9" lengthAdjust="spacingAndGlyphs">EGFP-N</text>
<text x="652.9" y="647" font-size="9.4" fill="#a020f0" textLength="65.8" lengthAdjust="spacingAndGlyphs">(1906 .. 1927)</text>
<text x="567.6" y="680" font-size="10.6" font-weight="bold" fill="#000" textLength="32.3" lengthAdjust="spacingAndGlyphs">PfoI *</text>
<text x="607.5" y="680" font-size="9.4" fill="#000" textLength="29.8" lengthAdjust="spacingAndGlyphs">(2141)</text>
<text x="545.5" y="698" font-size="10.6" fill="#a020f0" textLength="35.2" lengthAdjust="spacingAndGlyphs">EXFP-R</text>
<text x="596.6" y="698" font-size="9.4" fill="#a020f0" textLength="65.8" lengthAdjust="spacingAndGlyphs">(2167 .. 2186)</text>
<text x="460.6" y="747" font-size="10.6" fill="#a020f0" textLength="36.6" lengthAdjust="spacingAndGlyphs">EGFP-C</text>
<text x="512.8" y="747" font-size="9.4" fill="#a020f0" textLength="65.8" lengthAdjust="spacingAndGlyphs">(2514 .. 2535)</text>
<text x="403.7" y="765" font-size="10.6" font-weight="bold" fill="#000" textLength="30.8" lengthAdjust="spacingAndGlyphs">BsrGI</text>
<text x="447.4" y="765" font-size="9.4" fill="#000" textLength="29.8" lengthAdjust="spacingAndGlyphs">(2570)</text>
<text x="284.5" y="765" font-size="9.4" fill="#000" textLength="29.8" lengthAdjust="spacingAndGlyphs">(2603)</text>
<text x="321.5" y="765" font-size="10.6" font-weight="bold" fill="#000" textLength="41.7" lengthAdjust="spacingAndGlyphs">HindIII</text>
<text x="210.8" y="747" font-size="9.4" fill="#a020f0" textLength="65.8" lengthAdjust="spacingAndGlyphs">(2651 .. 2670)</text>
<text x="283.7" y="747" font-size="10.6" fill="#a020f0" textLength="39.6" lengthAdjust="spacingAndGlyphs">EBV-rev</text>
<text x="178.1" y="735" font-size="9.4" fill="#a020f0" textLength="65.8" lengthAdjust="spacingAndGlyphs">(2705 .. 2724)</text>
<text x="251.4" y="735" font-size="10.6" fill="#a020f0" textLength="50.1" lengthAdjust="spacingAndGlyphs">SV40pA-R</text>
<text x="214.4" y="717" font-size="9.4" fill="#000" textLength="29.8" lengthAdjust="spacingAndGlyphs">(2761)</text>
<text x="251.8" y="717" font-size="10.6" font-weight="bold" fill="#000" textLength="26.5" lengthAdjust="spacingAndGlyphs">HpaI</text>
<text x="178.1" y="699" font-size="9.4" fill="#000" textLength="29.8" lengthAdjust="spacingAndGlyphs">(2862)</text>
<text x="215.2" y="699" font-size="10.6" font-weight="bold" fill="#000" textLength="43.9" lengthAdjust="spacingAndGlyphs">BsaBI *</text>
<text x="173.5" y="681" font-size="9.4" fill="#000" textLength="29.8" lengthAdjust="spacingAndGlyphs">(2975)</text>
<text x="210.6" y="681" font-size="10.6" font-weight="bold" fill="#000" textLength="24.7" lengthAdjust="spacingAndGlyphs">KasI</text>
<text x="163.5" y="669" font-size="9.4" fill="#000" textLength="29.8" lengthAdjust="spacingAndGlyphs">(2976)</text>
<text x="200.6" y="669" font-size="10.6" font-weight="bold" fill="#000" textLength="24.5" lengthAdjust="spacingAndGlyphs">NarI</text>
<text x="153.7" y="657" font-size="9.4" fill="#000" textLength="29.8" lengthAdjust="spacingAndGlyphs">(2977)</text>
<text x="190.3" y="657" font-size="10.6" font-weight="bold" fill="#000" textLength="22.9" lengthAdjust="spacingAndGlyphs">SfoI</text>
<text x="136.6" y="645" font-size="9.4" fill="#000" textLength="29.8" lengthAdjust="spacingAndGlyphs">(2979)</text>
<text x="173.5" y="645" font-size="10.6" font-weight="bold" fill="#000" textLength="29.1" lengthAdjust="spacingAndGlyphs">PluTI</text>
<text x="78.1" y="633" font-size="9.4" fill="#000" textLength="29.8" lengthAdjust="spacingAndGlyphs">(2992)</text>
<text x="115.7" y="633" font-size="10.6" font-weight="bold" fill="#000" textLength="20.9" lengthAdjust="spacingAndGlyphs">CsiI</text>
<rect x="146.2" y="628.75" width="3.5" height="1.25" fill="#111"/>
<text x="153.7" y="633" font-size="10.6" font-weight="bold" fill="#000" textLength="43.3" lengthAdjust="spacingAndGlyphs">SexAI *</text>
<text x="110.7" y="621" font-size="9.4" fill="#000" textLength="29.8" lengthAdjust="spacingAndGlyphs">(3007)</text>
<text x="147.6" y="621" font-size="10.6" font-weight="bold" fill="#000" textLength="34.6" lengthAdjust="spacingAndGlyphs">BstEII</text>
<text x="93.2" y="609" font-size="9.4" fill="#000" textLength="29.8" lengthAdjust="spacingAndGlyphs">(3051)</text>
<text x="130.2" y="609" font-size="10.6" font-weight="bold" fill="#000" textLength="44.3" lengthAdjust="spacingAndGlyphs">NgoMIV</text>
<text x="104.6" y="597" font-size="9.4" fill="#000" textLength="29.8" lengthAdjust="spacingAndGlyphs">(3053)</text>
<text x="141.6" y="597" font-size="10.6" font-weight="bold" fill="#000" textLength="26.2" lengthAdjust="spacingAndGlyphs">NaeI</text>
<text x="33.4" y="579" font-size="9.4" fill="#a020f0" textLength="65.8" lengthAdjust="spacingAndGlyphs">(3124 .. 3142)</text>
<text x="106.7" y="579" font-size="10.6" fill="#a020f0" textLength="50.4" lengthAdjust="spacingAndGlyphs">pBRforEco</text>
<text x="88.2" y="561" font-size="9.4" fill="#000" textLength="29.8" lengthAdjust="spacingAndGlyphs">(3181)</text>
<text x="125.8" y="561" font-size="10.6" font-weight="bold" fill="#000" textLength="22.9" lengthAdjust="spacingAndGlyphs">ZraI</text>
<text x="75.4" y="549" font-size="9.4" fill="#000" textLength="29.8" lengthAdjust="spacingAndGlyphs">(3183)</text>
<text x="112.4" y="549" font-size="10.6" font-weight="bold" fill="#000" textLength="28.5" lengthAdjust="spacingAndGlyphs">AatII</text>
<text x="64.6" y="524" font-size="9.4" fill="#000" textLength="29.8" lengthAdjust="spacingAndGlyphs">(3502)</text>
<text x="101.3" y="524" font-size="10.6" font-weight="bold" fill="#000" textLength="29.9" lengthAdjust="spacingAndGlyphs">XmnI</text>
<text x="18.3" y="506" font-size="9.4" fill="#a020f0" textLength="65.8" lengthAdjust="spacingAndGlyphs">(3533 .. 3552)</text>
<text x="91.4" y="506" font-size="10.6" fill="#a020f0" textLength="33.6" lengthAdjust="spacingAndGlyphs">Amp-R</text>
<text x="50.3" y="443" font-size="9.4" fill="#000" textLength="29.8" lengthAdjust="spacingAndGlyphs">(3733)</text>
<text x="87.3" y="443" font-size="10.6" font-weight="bold" fill="#000" textLength="25.2" lengthAdjust="spacingAndGlyphs">PvuI</text>
<text x="49.5" y="392" font-size="9.4" fill="#000" textLength="29.8" lengthAdjust="spacingAndGlyphs">(3879)</text>
<text x="86.7" y="392" font-size="10.6" font-weight="bold" fill="#000" textLength="23.5" lengthAdjust="spacingAndGlyphs">FspI</text>
<text x="56.5" y="335" font-size="9.4" fill="#000" textLength="29.8" lengthAdjust="spacingAndGlyphs">(4036)</text>
<text x="94.1" y="335" font-size="10.6" font-weight="bold" fill="#000" textLength="24.1" lengthAdjust="spacingAndGlyphs">BsaI</text>
<text x="60.4" y="311" font-size="9.4" fill="#000" textLength="29.8" lengthAdjust="spacingAndGlyphs">(4102)</text>
<text x="97.4" y="311" font-size="10.6" font-weight="bold" fill="#000" textLength="26.2" lengthAdjust="spacingAndGlyphs">AhdI</text>
<rect x="686.2" y="471.7" width="65.4" height="11.6" rx="4.3" ry="4.3" fill="#a9cdd8" stroke="#3387a0" stroke-width="1.1"/>
<text x="689.3" y="481" font-size="10.6" fill="#000" textLength="59.3" lengthAdjust="spacingAndGlyphs">tet operator</text>
<rect x="682.1" y="487.8" width="65.4" height="11.6" rx="4.3" ry="4.3" fill="#a9cdd8" stroke="#3387a0" stroke-width="1.1"/>
<text x="685.2" y="497" font-size="10.6" fill="#000" textLength="59.3" lengthAdjust="spacingAndGlyphs">tet operator</text>
<rect x="676.9" y="503.6" width="65.4" height="11.6" rx="4.3" ry="4.3" fill="#a9cdd8" stroke="#3387a0" stroke-width="1.1"/>
<text x="680" y="513" font-size="10.6" fill="#000" textLength="59.3" lengthAdjust="spacingAndGlyphs">tet operator</text>
<rect x="671.2" y="519.7" width="65.4" height="11.6" rx="4.3" ry="4.3" fill="#a9cdd8" stroke="#3387a0" stroke-width="1.1"/>
<text x="674.3" y="529" font-size="10.6" fill="#000" textLength="59.3" lengthAdjust="spacingAndGlyphs">tet operator</text>
<rect x="664.4" y="535.7" width="65.4" height="11.6" rx="4.3" ry="4.3" fill="#a9cdd8" stroke="#3387a0" stroke-width="1.1"/>
<text x="667.5" y="545" font-size="10.6" fill="#000" textLength="59.3" lengthAdjust="spacingAndGlyphs">tet operator</text>
<rect x="612.4" y="619.6" width="56.3" height="11.9" rx="4.5" ry="4.5" fill="#dfb9f9" stroke="#9e25ec" stroke-width="1.2"/>
<text x="615.5" y="629" font-size="10.6" fill="#000" textLength="49.1" lengthAdjust="spacingAndGlyphs">SK primer</text>
<text x="350.2" y="400.6" font-size="10.8" font-weight="bold" fill="#000" textLength="113.8" lengthAdjust="spacingAndGlyphs">Salsa-BC122-P2C2</text>
<text x="387.7" y="412.7" font-size="10.4" fill="#000" textLength="40.5" lengthAdjust="spacingAndGlyphs">5115 bp</text>
<text transform="translate(288.87,244.97) rotate(323.05) scale(1.23,1)" font-size="10.6" fill="#000">o</text>
<text transform="translate(294.75,240.72) rotate(325.16) scale(1.23,1)" font-size="10.6" fill="#000">r</text>
<text transform="translate(298.34,238.27) rotate(326.43) scale(1.23,1)" font-size="10.6" fill="#000">i</text>
<text transform="translate(440.68,225.89) rotate(10.83) scale(1.12,1)" font-size="10.6" fill="#000">β</text>
<text transform="translate(447.35,227.3) rotate(13) scale(1.12,1)" font-size="10.6" fill="#000">-</text>
<text transform="translate(451.18,228.23) rotate(14.27) scale(1.12,1)" font-size="10.6" fill="#000">g</text>
<text transform="translate(457.54,229.97) rotate(16.37) scale(1.12,1)" font-size="10.6" fill="#000">l</text>
<text transform="translate(460.06,230.73) rotate(17.21) scale(1.12,1)" font-size="10.6" fill="#000">o</text>
<text transform="translate(466.32,232.8) rotate(19.32) scale(1.12,1)" font-size="10.6" fill="#000">b</text>
<text transform="translate(472.5,235.09) rotate(21.43) scale(1.12,1)" font-size="10.6" fill="#000">i</text>
<text transform="translate(474.95,236.07) rotate(22.27) scale(1.12,1)" font-size="10.6" fill="#000">n</text>
<text transform="translate(483.99,240.07) rotate(25.43) scale(1.12,1)" font-size="10.6" fill="#000">p</text>
<text transform="translate(489.89,243.01) rotate(27.53) scale(1.12,1)" font-size="10.6" fill="#000">o</text>
<text transform="translate(495.67,246.16) rotate(29.64) scale(1.12,1)" font-size="10.6" fill="#000">l</text>
<text transform="translate(497.95,247.48) rotate(30.48) scale(1.12,1)" font-size="10.6" fill="#000">y</text>
<text transform="translate(503.01,250.57) rotate(32.38) scale(1.12,1)" font-size="10.6" fill="#000">(</text>
<text transform="translate(506.32,252.72) rotate(33.64) scale(1.12,1)" font-size="10.6" fill="#000">A</text>
<text transform="translate(512.8,257.24) rotate(36.16) scale(1.12,1)" font-size="10.6" fill="#000">)</text>
<text transform="translate(518.56,261.63) rotate(38.48) scale(1.12,1)" font-size="10.6" fill="#000">s</text>
<text transform="translate(523.14,265.4) rotate(40.37) scale(1.12,1)" font-size="10.6" fill="#000">i</text>
<text transform="translate(525.13,267.12) rotate(41.21) scale(1.12,1)" font-size="10.6" fill="#000">g</text>
<text transform="translate(530.01,271.55) rotate(43.32) scale(1.12,1)" font-size="10.6" fill="#000">n</text>
<text transform="translate(534.72,276.16) rotate(45.43) scale(1.12,1)" font-size="10.6" fill="#000">a</text>
<text transform="translate(539.26,280.94) rotate(47.53) scale(1.12,1)" font-size="10.6" fill="#000">l</text>
<path d="M564.39,278.59 L566.17,280.91 L567.93,283.25 L569.65,285.61 L571.33,288 L572.98,290.41 L574.59,292.85 L576.17,295.31 L577.71,297.8 L579.22,300.3 L580.68,302.83 L582.11,305.38 L583.51,307.95 L584.86,310.54 L586.18,313.15 L587.46,315.78 L588.7,318.43 L589.9,321.09 L591.07,323.77 L592.19,326.47 L593.27,329.19 L594.32,331.92 L595.32,334.66 L596.29,337.42 L597.21,340.2 L598.09,342.98 L598.94,345.78 L599.74,348.59 L600.5,351.42 L601.22,354.25 L601.89,357.09 L602.53,359.95 L603.12,362.81" fill="none" stroke="#fff" stroke-width="14"/>
<text transform="translate(565.99,286.87) rotate(54.09) scale(1.15,1)" font-size="10.6" fill="#000">β</text>
<text transform="translate(570,292.62) rotate(56.14) scale(1.15,1)" font-size="10.6" fill="#000">-</text>
<text transform="translate(572.23,296.01) rotate(57.32) scale(1.15,1)" font-size="10.6" fill="#000">g</text>
<text transform="translate(575.79,301.78) rotate(59.3) scale(1.15,1)" font-size="10.6" fill="#000">l</text>
<text transform="translate(577.16,304.12) rotate(60.09) scale(1.15,1)" font-size="10.6" fill="#000">o</text>
<text transform="translate(580.44,310.06) rotate(62.07) scale(1.15,1)" font-size="10.6" fill="#000">b</text>
<text transform="translate(583.51,316.1) rotate(64.05) scale(1.15,1)" font-size="10.6" fill="#000">i</text>
<text transform="translate(584.68,318.55) rotate(64.84) scale(1.15,1)" font-size="10.6" fill="#000">n</text>
<text transform="translate(588.76,327.86) rotate(67.81) scale(1.15,1)" font-size="10.6" fill="#000">i</text>
<text transform="translate(589.77,330.37) rotate(68.6) scale(1.15,1)" font-size="10.6" fill="#000">n</text>
<text transform="translate(592.13,336.73) rotate(70.58) scale(1.15,1)" font-size="10.6" fill="#000">t</text>
<text transform="translate(593.23,339.93) rotate(71.57) scale(1.15,1)" font-size="10.6" fill="#000">r</text>
<text transform="translate(594.47,343.8) rotate(72.75) scale(1.15,1)" font-size="10.6" fill="#000">o</text>
<text transform="translate(596.37,350.3) rotate(74.73) scale(1.15,1)" font-size="10.6" fill="#000">n</text>
<text transform="translate(564.07,498.41) rotate(301.54) scale(1.09,1)" font-size="11" fill="#000">m</text>
<text transform="translate(569.06,489.77) rotate(298.44) scale(1.09,1)" font-size="11" fill="#000">i</text>
<text transform="translate(570.31,487.42) rotate(297.61) scale(1.09,1)" font-size="11" fill="#000">n</text>
<text transform="translate(573.29,481.46) rotate(295.54) scale(1.09,1)" font-size="11" fill="#000">i</text>
<text transform="translate(574.42,479.05) rotate(294.71) scale(1.09,1)" font-size="11" fill="#000">m</text>
<text transform="translate(578.35,469.87) rotate(291.61) scale(1.09,1)" font-size="11" fill="#000">a</text>
<text transform="translate(580.69,463.63) rotate(289.54) scale(1.09,1)" font-size="11" fill="#000">l</text>
<text transform="translate(582.6,457.96) rotate(287.68) scale(1.09,1)" font-size="11" fill="#000">C</text>
<text transform="translate(585.03,449.65) rotate(284.99) scale(1.09,1)" font-size="11" fill="#000">M</text>
<text transform="translate(587.35,439.95) rotate(281.88) scale(1.09,1)" font-size="11" fill="#000">V</text>
<text transform="translate(589.34,428.81) rotate(278.36) scale(1.09,1)" font-size="11" fill="#000">p</text>
<text transform="translate(590.19,422.2) rotate(276.29) scale(1.09,1)" font-size="11" fill="#000">r</text>
<text transform="translate(590.58,418.23) rotate(275.05) scale(1.09,1)" font-size="11" fill="#000">o</text>
<text transform="translate(591.05,411.58) rotate(272.98) scale(1.09,1)" font-size="11" fill="#000">m</text>
<text transform="translate(591.3,401.6) rotate(269.88) scale(1.09,1)" font-size="11" fill="#000">o</text>
<text transform="translate(591.16,394.94) rotate(267.81) scale(1.09,1)" font-size="11" fill="#000">t</text>
<text transform="translate(591.01,391.62) rotate(266.77) scale(1.09,1)" font-size="11" fill="#000">e</text>
<text transform="translate(590.51,384.97) rotate(264.7) scale(1.09,1)" font-size="11" fill="#000">r</text>
<text transform="translate(467.72,576.12) rotate(340.77) scale(0.96,1)" font-size="11" fill="#000">E</text>
<text transform="translate(474.34,573.67) rotate(338.58) scale(0.96,1)" font-size="11" fill="#000">G</text>
<text transform="translate(481.93,570.49) rotate(336.03) scale(0.96,1)" font-size="11" fill="#000">F</text>
<text transform="translate(487.78,567.76) rotate(334.02) scale(0.96,1)" font-size="11" fill="#000">P</text>
<text transform="translate(451.19,538.42) rotate(342.05) scale(0.96,1)" font-size="11" fill="#000">E</text>
<text transform="translate(457.84,536.08) rotate(339.23) scale(0.96,1)" font-size="11" fill="#000">G</text>
<text transform="translate(465.45,532.95) rotate(335.95) scale(0.96,1)" font-size="11" fill="#000">F</text>
<text transform="translate(471.29,530.18) rotate(333.37) scale(0.96,1)" font-size="11" fill="#000">P</text>
<text transform="translate(326.51,567.46) rotate(385.94) scale(1.09,1)" font-size="11" fill="#000">S</text>
<text transform="translate(333.8,570.81) rotate(383.44) scale(1.09,1)" font-size="11" fill="#000">V</text>
<text transform="translate(341.22,573.84) rotate(380.95) scale(1.09,1)" font-size="11" fill="#000">4</text>
<text transform="translate(347.51,576.12) rotate(378.86) scale(1.09,1)" font-size="11" fill="#000">0</text>
<text transform="translate(357.08,579.1) rotate(375.74) scale(1.09,1)" font-size="11" fill="#000">p</text>
<text transform="translate(363.55,580.8) rotate(373.66) scale(1.09,1)" font-size="11" fill="#000">o</text>
<text transform="translate(370.07,582.26) rotate(371.58) scale(1.09,1)" font-size="11" fill="#000">l</text>
<text transform="translate(372.7,582.77) rotate(370.75) scale(1.09,1)" font-size="11" fill="#000">y</text>
<text transform="translate(378.62,583.8) rotate(368.87) scale(1.09,1)" font-size="11" fill="#000">(</text>
<text transform="translate(382.58,584.37) rotate(367.63) scale(1.09,1)" font-size="11" fill="#000">A</text>
<text transform="translate(390.55,585.26) rotate(365.13) scale(1.09,1)" font-size="11" fill="#000">)</text>
<text transform="translate(397.88,585.77) rotate(362.84) scale(1.09,1)" font-size="11" fill="#000">s</text>
<text transform="translate(403.89,585.97) rotate(360.97) scale(1.09,1)" font-size="11" fill="#000">i</text>
<text transform="translate(406.56,586) rotate(360.14) scale(1.09,1)" font-size="11" fill="#000">g</text>
<text transform="translate(413.24,585.89) rotate(358.06) scale(1.09,1)" font-size="11" fill="#000">n</text>
<text transform="translate(419.92,585.55) rotate(355.97) scale(1.09,1)" font-size="11" fill="#000">a</text>
<text transform="translate(426.58,584.95) rotate(353.89) scale(1.09,1)" font-size="11" fill="#000">l</text>
<text transform="translate(243.17,486.85) rotate(422.62) scale(1.09,1)" font-size="11" fill="#000">A</text>
<text transform="translate(246.99,493.86) rotate(420.14) scale(1.09,1)" font-size="11" fill="#000">m</text>
<text transform="translate(252.19,502.37) rotate(417.04) scale(1.09,1)" font-size="11" fill="#000">p</text>
<text transform="translate(255.91,507.89) rotate(414.98) scale(1.09,1)" font-size="11" fill="#000">R</text>
<text transform="translate(263.1,517.46) rotate(411.26) scale(1.09,1)" font-size="11" fill="#000">p</text>
<text transform="translate(267.36,522.58) rotate(409.19) scale(1.09,1)" font-size="11" fill="#000">r</text>
<text transform="translate(269.99,525.57) rotate(407.95) scale(1.09,1)" font-size="11" fill="#000">o</text>
<text transform="translate(274.54,530.43) rotate(405.88) scale(1.09,1)" font-size="11" fill="#000">m</text>
<text transform="translate(281.68,537.4) rotate(402.79) scale(1.09,1)" font-size="11" fill="#000">o</text>
<text transform="translate(286.64,541.84) rotate(400.72) scale(1.09,1)" font-size="11" fill="#000">t</text>
<text transform="translate(289.18,543.98) rotate(399.69) scale(1.09,1)" font-size="11" fill="#000">e</text>
<text transform="translate(294.38,548.14) rotate(397.62) scale(1.09,1)" font-size="11" fill="#000">r</text>
<text transform="translate(222.56,406.79) rotate(448.51) scale(1.01,1)" font-size="11" fill="#000">A</text>
<text transform="translate(222.91,414.22) rotate(446.2) scale(1.01,1)" font-size="11" fill="#000">m</text>
<text transform="translate(223.75,423.47) rotate(443.32) scale(1.01,1)" font-size="11" fill="#000">p</text>
<text transform="translate(224.58,429.62) rotate(441.39) scale(1.01,1)" font-size="11" fill="#000">R</text>
<text x="795.8" y="10.7" font-size="7.4" fill="#c0c0c0" textLength="36.7" lengthAdjust="spacingAndGlyphs">Created by</text>
<path d="M836.2,1.6 L839.6,1.6 L839.6,3 Q842.3,3 842.2,6 L841.6,6.6 L840.3,6.6 L838.6,12.6 L837.6,12.6 Z" fill="#8ed3f6"/>
<text x="845" y="10.8" font-size="9.7" fill="#838a92" textLength="43.6" lengthAdjust="spacingAndGlyphs">SnapGene</text>
</svg>
</body></html>
